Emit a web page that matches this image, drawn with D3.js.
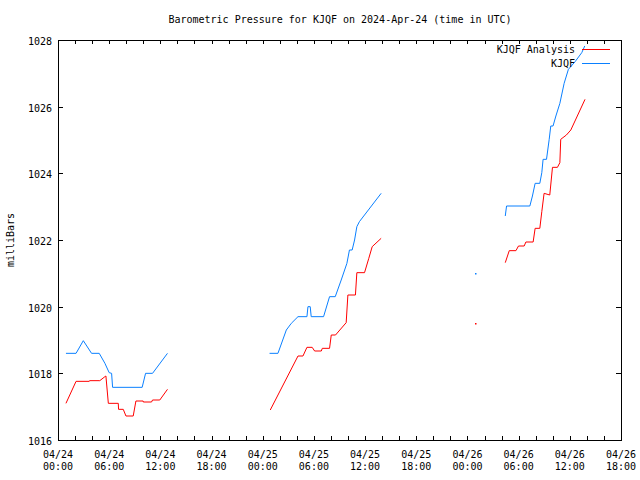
<!DOCTYPE html>
<html><head><meta charset="utf-8">
<script src="https://cdn.jsdelivr.net/npm/d3@7"></script>
<style>
body{margin:0;background:#fff;}
svg{display:block;}
text{font-family:"DejaVu Sans Mono","Liberation Mono",monospace;font-size:10px;fill:#000;}
</style></head>
<body>
<svg id="c" width="640" height="480"></svg>
<script>
// ---- data ----
const chartTitle = "Barometric Pressure for KJQF on 2024-Apr-24 (time in UTC)";
const yLabel = "milliBars";
const seriesNames = ["KJQF Analysis", "KJQF"];
const yTicks = [1016, 1018, 1020, 1022, 1024, 1026, 1028];
const xTickTimes = ["2024-04-24T00:00","2024-04-24T06:00","2024-04-24T12:00","2024-04-24T18:00",
  "2024-04-25T00:00","2024-04-25T06:00","2024-04-25T12:00","2024-04-25T18:00",
  "2024-04-26T00:00","2024-04-26T06:00","2024-04-26T12:00","2024-04-26T18:00"];

// KJQF observations (null = gap)
const kjqfTime = [
 "2024-04-24T00:56","2024-04-24T02:07","2024-04-24T02:58","2024-04-24T03:56","2024-04-24T04:50",
 "2024-04-24T05:30","2024-04-24T06:00","2024-04-24T06:17","2024-04-24T06:24","2024-04-24T09:52",
 "2024-04-24T10:16","2024-04-24T11:05","2024-04-24T12:50", null,
 "2024-04-25T00:48","2024-04-25T01:47","2024-04-25T02:46","2024-04-25T03:21","2024-04-25T04:08",
 "2024-04-25T05:11","2024-04-25T05:18","2024-04-25T05:34","2024-04-25T05:41","2024-04-25T07:08",
 "2024-04-25T07:50","2024-04-25T08:30","2024-04-25T09:12","2024-04-25T09:52","2024-04-25T10:10",
 "2024-04-25T10:29","2024-04-25T10:46","2024-04-25T11:02","2024-04-25T11:20","2024-04-25T13:53", null,
 "2024-04-26T00:50", null,
 "2024-04-26T04:26","2024-04-26T04:35","2024-04-26T07:19","2024-04-26T07:37","2024-04-26T07:56",
 "2024-04-26T08:29","2024-04-26T08:43","2024-04-26T08:52","2024-04-26T09:16","2024-04-26T09:35",
 "2024-04-26T09:46","2024-04-26T10:02","2024-04-26T10:22","2024-04-26T10:50","2024-04-26T11:20",
 "2024-04-26T11:50","2024-04-26T12:37","2024-04-26T13:24","2024-04-26T13:45"];
const kjqfPres = [
 1018.6,1018.6,1018.98,1018.6,1018.6,
 1018.3,1018.02,1018.0,1017.58,1017.58,
 1018.0,1018.0,1018.6, null,
 1018.6,1018.6,1019.3,1019.5,1019.7,
 1019.7,1020.0,1020.0,1019.7,1019.7,
 1020.3,1020.3,1020.8,1021.3,1021.7,
 1021.7,1022.0,1022.4,1022.55,1023.4, null,
 1021.0, null,
 1022.72,1023.02,1023.02,1023.32,1023.7,
 1023.7,1024.02,1024.42,1024.42,1025.02,
 1025.42,1025.42,1025.72,1026.1,1026.7,
 1027.12,1027.35,1027.62,1027.82];

// KJQF Analysis (null = gap)
const anaTime = [
 "2024-04-24T00:56","2024-04-24T02:07","2024-04-24T03:40","2024-04-24T03:42","2024-04-24T04:54",
 "2024-04-24T05:30","2024-04-24T05:37","2024-04-24T05:54","2024-04-24T07:04","2024-04-24T07:06",
 "2024-04-24T07:39","2024-04-24T07:58","2024-04-24T08:49","2024-04-24T09:08","2024-04-24T09:59",
 "2024-04-24T10:00","2024-04-24T10:58","2024-04-24T11:05","2024-04-24T11:56","2024-04-24T12:50", null,
 "2024-04-25T00:53","2024-04-25T04:08","2024-04-25T04:43","2024-04-25T05:11","2024-04-25T05:48",
 "2024-04-25T06:05","2024-04-25T06:52","2024-04-25T06:59","2024-04-25T07:50","2024-04-25T08:02",
 "2024-04-25T08:32","2024-04-25T09:47","2024-04-25T09:59","2024-04-25T10:52","2024-04-25T11:02",
 "2024-04-25T11:56","2024-04-25T12:26","2024-04-25T12:50","2024-04-25T13:53", null,
 "2024-04-26T00:50", null,
 "2024-04-26T04:26","2024-04-26T04:54","2024-04-26T05:41","2024-04-26T05:59","2024-04-26T06:39",
 "2024-04-26T06:51","2024-04-26T07:42","2024-04-26T07:56","2024-04-26T08:29","2024-04-26T08:43",
 "2024-04-26T08:59","2024-04-26T09:39","2024-04-26T09:58","2024-04-26T10:33","2024-04-26T10:50",
 "2024-04-26T10:56","2024-04-26T11:36","2024-04-26T12:07","2024-04-26T13:47"];
const anaPres = [
 1017.1,1017.76,1017.76,1017.78,1017.78,
 1017.9,1017.92,1017.1,1017.1,1016.92,
 1016.92,1016.72,1016.72,1017.17,1017.17,
 1017.14,1017.14,1017.2,1017.2,1017.52, null,
 1016.9,1018.52,1018.52,1018.78,1018.78,
 1018.67,1018.67,1018.75,1018.75,1019.15,
 1019.15,1019.52,1020.35,1020.35,1021.02,
 1021.02,1021.45,1021.8,1022.05, null,
 1019.5, null,
 1021.32,1021.68,1021.68,1021.82,1021.82,
 1021.94,1021.94,1022.35,1022.35,1022.85,
 1023.4,1023.35,1024.18,1024.18,1024.32,
 1025.02,1025.15,1025.3,1026.22];

const colors = ["#ff0000", "#0a80ff"];

// ---- chart ----
const parse = s => s === null ? null : new Date(s + ":00Z");
const svg = d3.select("#c");
const M = {l: 58, r: 621, t: 40, b: 440};
const x = d3.scaleUtc()
  .domain([parse("2024-04-24T00:00"), parse("2024-04-26T18:00")])
  .range([M.l, M.r]);
const y = d3.scaleLinear().domain([1016, 1028]).range([M.b, M.t]);

// border
svg.append("rect").attr("x", M.l + 0.5).attr("y", M.t + 0.5)
  .attr("width", M.r - M.l).attr("height", M.b - M.t)
  .attr("fill", "none").attr("stroke", "#000").attr("shape-rendering", "crispEdges");

// x ticks every 2 hours, bottom and top
const minorTicks = d3.utcHour.every(2).range(x.domain()[0], new Date(+x.domain()[1] + 1));
const ax = svg.append("g").attr("shape-rendering", "crispEdges");
minorTicks.forEach(t => {
  const px = Math.round(x(t)) + 0.5;
  ax.append("line").attr("x1", px).attr("x2", px).attr("y1", M.b).attr("y2", M.b - 4).attr("stroke", "#000");
  ax.append("line").attr("x1", px).attr("x2", px).attr("y1", M.t).attr("y2", M.t + 4).attr("stroke", "#000");
});
const fmtD = d3.utcFormat("%m/%d"), fmtH = d3.utcFormat("%H:%M");
xTickTimes.forEach(s => {
  const t = parse(s), px = x(t);
  ax.append("text").attr("x", px).attr("y", 458).attr("text-anchor", "middle").text(fmtD(t));
  ax.append("text").attr("x", px).attr("y", 470).attr("text-anchor", "middle").text(fmtH(t));
});

// y ticks
yTicks.forEach(v => {
  const py = Math.round(y(v)) + 0.5;
  ax.append("line").attr("x1", M.l).attr("x2", M.l + 5).attr("y1", py).attr("y2", py).attr("stroke", "#000");
  ax.append("line").attr("x1", M.r).attr("x2", M.r - 5).attr("y1", py).attr("y2", py).attr("stroke", "#000");
  ax.append("text").attr("x", 52).attr("y", py + 4).attr("text-anchor", "end").text(v);
});

// title & y label
svg.append("text").attr("x", 340).attr("y", 23).attr("text-anchor", "middle").text(chartTitle);
svg.append("text").attr("transform", "translate(14,240) rotate(-90)").attr("text-anchor", "middle").text(yLabel);

// series
function build(times, vals) {
  return times.map((t, i) => ({t: parse(t), v: vals[i]}));
}
const series = [build(anaTime, anaPres), build(kjqfTime, kjqfPres)];
const line = d3.line().defined(d => d.t !== null && d.v !== null)
  .x(d => x(d.t)).y(d => y(d.v));
series.forEach((data, i) => {
  svg.append("path").datum(data).attr("d", line)
    .attr("fill", "none").attr("stroke", colors[i]).attr("stroke-width", 1);
  // isolated points
  data.forEach((d, j) => {
    const prev = data[j - 1], next = data[j + 1];
    if (d.t !== null && (!prev || prev.t === null) && (!next || next.t === null)) {
      svg.append("rect").attr("x", Math.round(x(d.t))).attr("y", Math.round(y(d.v)))
        .attr("width", 1.5).attr("height", 1.5).attr("fill", colors[i]);
    }
  });
});

// legend
seriesNames.forEach((n, i) => {
  const ly = 49 + i * 13.5;
  svg.append("text").attr("x", 575).attr("y", ly + 4).attr("text-anchor", "end").text(n);
  svg.append("line").attr("x1", 582).attr("x2", 610).attr("y1", ly + 0.5).attr("y2", ly + 0.5)
    .attr("stroke", colors[i]).attr("shape-rendering", "crispEdges");
});
</script>
</body></html>
